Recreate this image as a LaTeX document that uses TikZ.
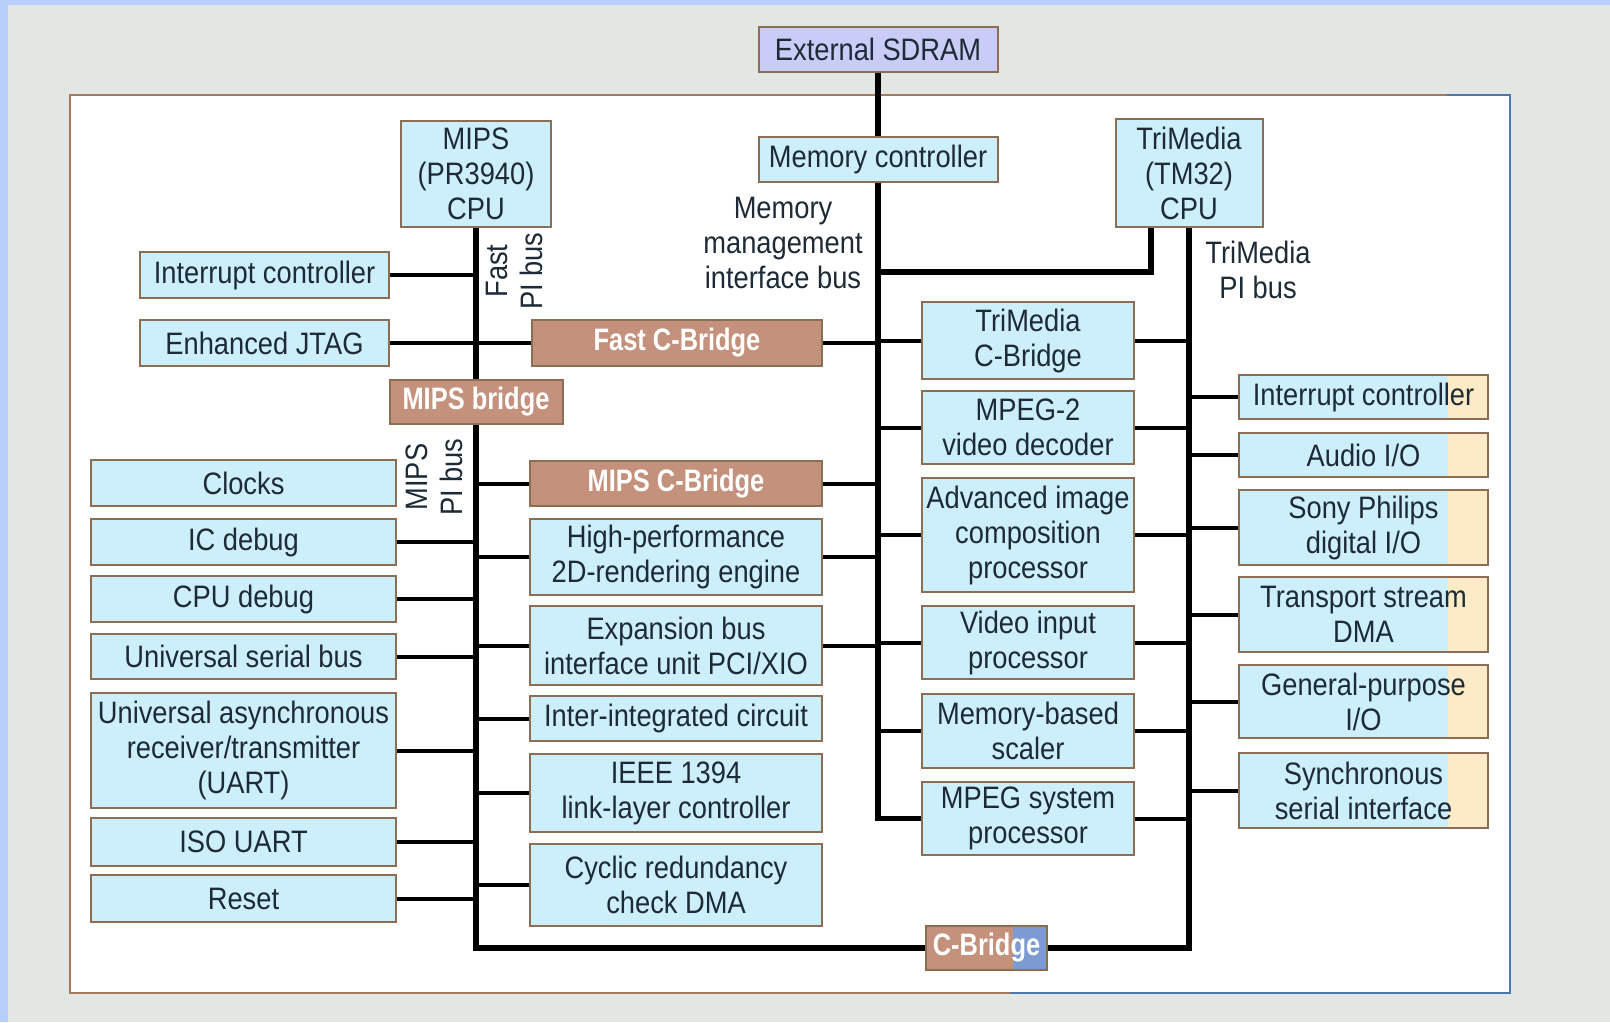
\documentclass[tikz,border=0pt]{standalone}
\usepackage{fontspec}
\setmainfont{Liberation Sans}[FakeStretch=0.88]
\newfontfamily\bridgefont{Liberation Sans}[FakeStretch=0.82]
\usetikzlibrary{positioning,calc}

\definecolor{boxblue}{HTML}{CDEEFB}
\definecolor{boxedge}{HTML}{8C6E55}
\definecolor{bridgebrown}{HTML}{C4927C}
\definecolor{bridgeblue}{HTML}{7D9BD3}
\definecolor{sdramlilac}{HTML}{C8CCF6}
\definecolor{inktext}{HTML}{1E2B37}
\definecolor{pagegrey}{HTML}{E3E7E3}
\definecolor{edgeblue}{HTML}{B7CEFB}
\definecolor{cream}{HTML}{FCEBC6}
\definecolor{framebrown}{HTML}{A57A5A}
\definecolor{frameblue}{HTML}{4E78A8}

\begin{document}
\begin{tikzpicture}[
        x=0.5pt, y=-0.5pt, % one unit is one pixel of the reference
        font=\fontsize{15.5}{17.5}\selectfont,
        text=inktext,
        wh/.style 2 args={minimum width=0.5pt*#1, minimum height=0.5pt*#2},
        block/.style={
            draw=boxedge,
            fill=boxblue,
            line width=1pt,
            inner sep=0pt,
            align=center
        },
        bridge/.style={
            block,
            fill=bridgebrown,
            text=white,
            font=\fontsize{15.5}{17.5}\bridgefont\bfseries
        },
        creamend/.style={
            path picture={\fill[cream] ([xshift=-20pt]path picture bounding box.north east) rectangle (path picture bounding box.south east);}
        },
        bus/.style={line width=2.6pt},
        tap/.style={line width=2pt},
        buslabel/.style={align=center, inner sep=0pt}
    ]
    \useasboundingbox (0,0) rectangle (1610,1022);
    % page and frame
    \fill[edgeblue] (0,0) rectangle (1610,1022);
    \fill[pagegrey] (8,5) rectangle (1610,1022);
    \filldraw[fill=white, draw=framebrown, line width=1pt] (70,95) rectangle (1510,993);
    \draw[frameblue, line width=1pt] (1447,95) -- (1510,95) -- (1510,993) -- (1010,993);

    % bus positions
    \coordinate (mipsx) at (476,0);
    \coordinate (mainx) at (878,0);
    \coordinate (tmx) at (1189,0);
    \coordinate (memtap) at (1151,272);

    % memory side
    \node[block, fill=sdramlilac, wh={239}{45}] (sdram) at (878,49.5) {External SDRAM};
    \node[block, wh={239}{45}] (memctl) at (878,159.5) {Memory controller};
    \node[buslabel] (memlabel) at (783,243) {Memory\\management\\interface bus};

    % MIPS side
    \node[block, wh={150}{106}] (mipscpu) at (476,174) {MIPS\\(PR3940)\\CPU};
    \node[buslabel, rotate=90] (fastlabel) at (514,271) {Fast\\PI bus};
    \node[block, wh={249}{46}] (intl) at (264.5,275) {Interrupt controller};
    \node[block, wh={249}{46}] (jtag) at (264.5,343) {Enhanced JTAG};
    \node[bridge, wh={290}{46}] (fastcb) at (677,343) {Fast C-Bridge};
    \node[bridge, wh={173}{44}] (mipsbr) at (476,402) {MIPS bridge};
    \node[buslabel, rotate=90] (mipslabel) at (434,477) {MIPS\\PI bus};

    \node[block, wh={305}{46}] (clocks) at (243.5,483) {Clocks};
    \node[block, wh={305}{46}] (icdbg) at (243.5,542) {IC debug};
    \node[block, wh={305}{46}] (cpudbg) at (243.5,599) {CPU debug};
    \node[block, wh={305}{45}] (usb) at (243.5,656.5) {Universal serial bus};
    \node[block, wh={305}{115}] (uart) at (243.5,750.5) {Universal asynchronous\\receiver/transmitter\\(UART)};
    \node[block, wh={305}{48}] (isouart) at (243.5,842) {ISO UART};
    \node[block, wh={305}{47}] (reset) at (243.5,898.5) {Reset};

    \node[bridge, wh={292}{45}] (mipscb) at (676,483.5) {MIPS C-Bridge};
    \node[block, wh={292}{76}] (render) at (676,557) {High-performance\\2D-rendering engine};
    \node[block, wh={292}{79}] (expbus) at (676,645.5) {Expansion bus\\interface unit PCI/XIO};
    \node[block, wh={292}{45}] (i2c) at (676,718.5) {Inter-integrated circuit};
    \node[block, wh={292}{78}] (ieee) at (676,793) {IEEE 1394\\link-layer controller};
    \node[block, wh={292}{82}] (crc) at (676,885) {Cyclic redundancy\\check DMA};

    % TriMedia side
    \node[block, wh={147}{108}] (tmcpu) at (1189,173) {TriMedia\\(TM32)\\CPU};
    \node[buslabel] (tmlabel) at (1258,270) {TriMedia\\PI bus};

    \node[block, wh={212}{77}] (tmcb) at (1028,340.5) {TriMedia\\C-Bridge};
    \node[block, wh={212}{73}] (mpeg2) at (1028,427.5) {MPEG-2\\video decoder};
    \node[block, wh={212}{114}] (aicp) at (1028,535) {Advanced image\\composition\\processor};
    \node[block, wh={212}{73}] (vip) at (1028,642.5) {Video input\\processor};
    \node[block, wh={212}{74}] (scaler) at (1028,731) {Memory-based\\scaler};
    \node[block, wh={212}{73}] (mpegsys) at (1028,818.5) {MPEG system\\processor};

    \node[block, creamend, wh={249}{44}] (tmintc) at (1363.5,397) {Interrupt controller};
    \node[block, creamend, wh={249}{44}] (audio) at (1363.5,455) {Audio I/O};
    \node[block, creamend, wh={249}{75}] (spdio) at (1363.5,527.5) {Sony Philips\\digital I/O};
    \node[block, creamend, wh={249}{75}] (tsdma) at (1363.5,614.5) {Transport stream\\DMA};
    \node[block, creamend, wh={249}{73}] (gpio) at (1363.5,701.5) {General-purpose\\I/O};
    \node[block, creamend, wh={249}{75}] (ssi) at (1363.5,790.5) {Synchronous\\serial interface};

    \node[bridge, wh={121}{44},
        path picture={\fill[bridgeblue] ([xshift=-17pt]path picture bounding box.north east) rectangle (path picture bounding box.south east);}
        ] (cbridge) at (986.5,948) {C-Bridge};

    % buses
    \draw[bus] (sdram) -- (memctl);
    \draw[bus] (memctl.south) |- (mpegsys.west);
    \draw[bus] (mipscpu) -- (mipsbr);
    \draw[bus] (mipsbr.south) |- (cbridge.west);
    \draw[bus] (tmcpu.south) |- (cbridge.east);
    \draw[bus] (tmcpu.south -| memtap) |- (memtap -| mainx);

    % taps
    \foreach \n in {intl,icdbg,cpudbg,usb,uart,isouart,reset}
        \draw[tap] (\n.east) -- (\n.east -| mipsx);
    \foreach \n in {mipscb,render,expbus,i2c,ieee,crc}
        \draw[tap] (\n.west) -- (\n.west -| mipsx);
    \foreach \n in {fastcb,mipscb,render,expbus}
        \draw[tap] (\n.east) -- (\n.east -| mainx);
    \foreach \n in {tmcb,mpeg2,aicp,vip,scaler}
        \draw[tap] (\n.west) -- (\n.west -| mainx);
    \foreach \n in {tmcb,mpeg2,aicp,vip,scaler,mpegsys}
        \draw[tap] (\n.east) -- (\n.east -| tmx);
    \foreach \n in {tmintc,audio,spdio,tsdma,gpio,ssi}
        \draw[tap] (\n.west) -- (\n.west -| tmx);
    \draw[tap] (jtag) -- (fastcb);
\end{tikzpicture}
\end{document}
